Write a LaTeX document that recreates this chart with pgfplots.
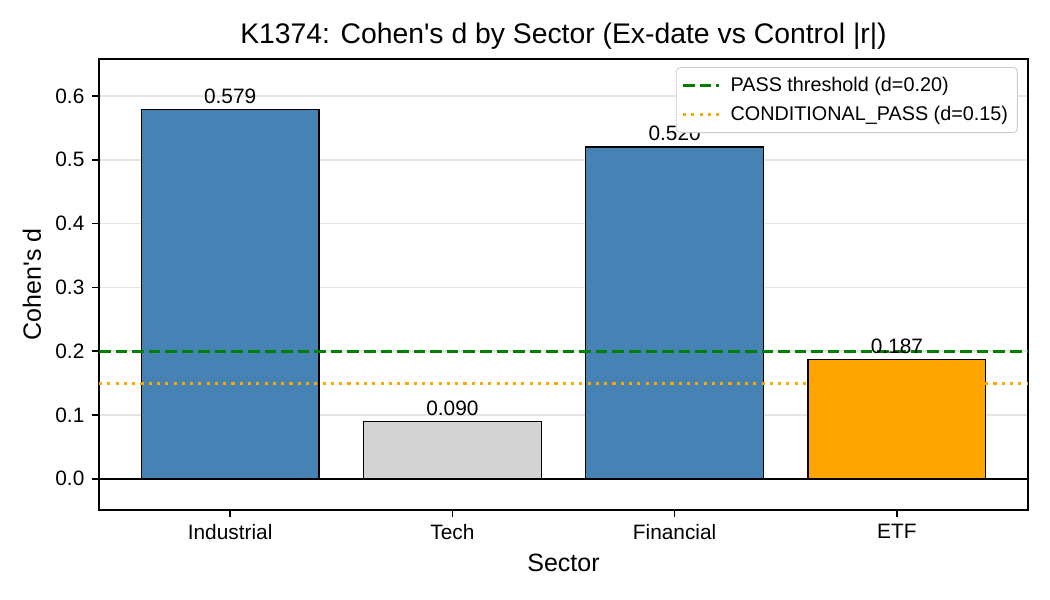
\documentclass[border=0pt]{standalone}
\usepackage{fontspec}
\setmainfont{Liberation Sans}[Ligatures=TeXOff]
\usepackage{pgfplots}
\pgfplotsset{compat=1.18}
\definecolor{steelblue}{HTML}{4682B4}
\definecolor{lgray}{HTML}{D3D3D3}
\definecolor{mporange}{HTML}{FFA500}
\definecolor{mpgreen}{HTML}{008000}
\begin{document}
\begin{tikzpicture}
\useasboundingbox (0,0) rectangle (504pt,288pt);
\begin{axis}[
  at={(47.52pt,43.2pt)}, anchor=south west,
  scale only axis, width=445.92pt, height=216.48pt,
  xmin=-0.59, xmax=3.59, ymin=-0.0489, ymax=0.658,
  xtick={0,1,2,3}, xticklabels={Industrial,Tech,Financial,ETF},
  ytick={0,0.1,0.2,0.3,0.4,0.5,0.6},
  yticklabel style={/pgf/number format/.cd,fixed,zerofill,precision=1},
  /pgf/number format/assume math mode=true,
  tick label style={font=\fontsize{10}{12}\selectfont},
  label style={font=\fontsize{12}{14}\selectfont},
  title style={font=\fontsize{13.6}{16}\selectfont, yshift=-5pt},
  title={K1374: Cohen's d by Sector (Ex-date vs Control |r|)},
  xlabel={Sector}, ylabel={Cohen's d},
  xlabel style={yshift=0pt},
  tick align=outside, xtick pos=bottom, ytick pos=left,
  major tick length=3.5pt,
  tick style={black, line width=0.8pt},
  axis line style={line width=0.8pt},
  ymajorgrids, grid style={black!10, line width=0.8pt},
  ybar, bar width=0.8, bar shift=0pt,
  nodes near coords={\pgfmathprintnumber[fixed,zerofill,precision=3]{\pgfplotspointmeta}},
  nodes near coords style={font=\fontsize{10}{12}\selectfont, /pgf/number format/assume math mode=true, inner sep=1.2pt, yshift=1.3pt},
  legend style={at={(0.989,0.982)}, anchor=north east, draw=black!20, rounded corners=2pt,
    font=\fontsize{9.5}{11}\selectfont, inner sep=2.5pt, row sep=1.5pt, column sep=3pt},
  legend cell align=left,
]
\addplot[fill=steelblue, draw=black, line width=0.6pt, forget plot] coordinates {(0,0.579) (2,0.520)};
\addplot[fill=lgray, draw=black, line width=0.6pt, forget plot] coordinates {(1,0.090)};
\addplot[fill=mporange, draw=black, line width=0.6pt, forget plot] coordinates {(3,0.187)};
\addplot[sharp plot, no marks, nodes near coords={}, black, line width=0.8pt, forget plot] coordinates {(-0.59,0) (3.59,0)};
\addplot[sharp plot, no marks, line legend, nodes near coords={}, mpgreen, line width=1.5pt, dash pattern=on 5.55pt off 2.4pt] coordinates {(-0.59,0.2) (3.59,0.2)};
\addlegendentry{PASS threshold (d=0.20)}
\addplot[sharp plot, no marks, line legend, nodes near coords={}, mporange, line width=1.5pt, dash pattern=on 1.5pt off 2.475pt] coordinates {(-0.59,0.15) (3.59,0.15)};
\addlegendentry{CONDITIONAL\_PASS (d=0.15)}
\end{axis}
\end{tikzpicture}
\end{document}
